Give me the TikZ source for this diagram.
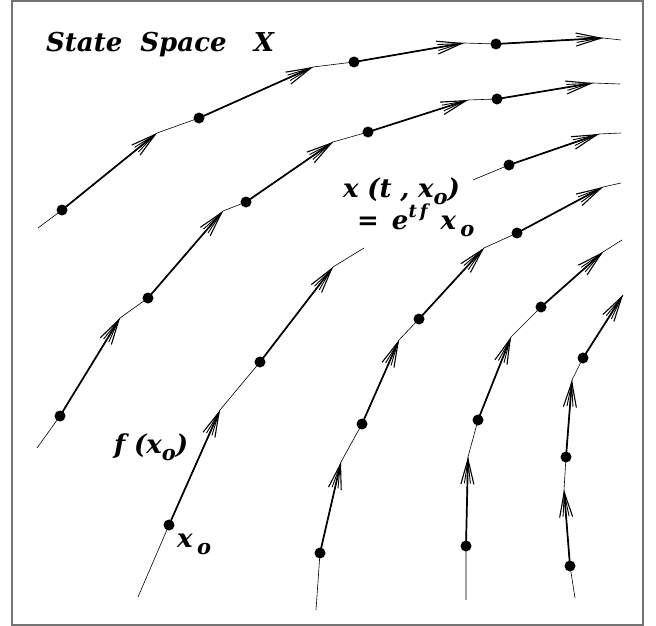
\documentclass[tikz,border=0pt]{standalone}
\usepackage{fontspec}
\newfontfamily\labfont{DejaVu Serif}
\usetikzlibrary{arrows.meta}
\newcommand\lsub[1]{\raisebox{-0.28em}{\fontsize{21}{21}\selectfont #1}}
\newcommand\lsup[1]{\raisebox{0.45em}{\fontsize{18}{18}\selectfont #1}}
\begin{document}
\begin{tikzpicture}[x=1pt,y=-1pt,
  flow/.style={line width=0.6pt, line join=round},
  vec/.style={line width=1.7pt,
    -{Straight Barb[length=25pt,width=13pt,line width=1.1pt]},
    postaction={draw, line width=0.7pt, -{Straight Barb[length=23pt,width=6pt,line width=0.9pt]}}},
  dotr/.style={fill=black},
  lab/.style={anchor=base west, inner sep=0pt, font=\labfont\fontsize{26}{30}\selectfont\bfseries\itshape}
]
\useasboundingbox (0,0) rectangle (656,626);
\draw[black!55, line width=1.5pt] (12,1) rectangle (643,625);

% curve A
\coordinate (a0) at (38,228);  \coordinate (A1) at (62,210);  \coordinate (a1) at (157,133);
\coordinate (A2) at (199,118); \coordinate (a2) at (313,67);  \coordinate (A3) at (354,62);
\coordinate (a3) at (464,43);  \coordinate (A4) at (496,44);  \coordinate (a4) at (603,38);
\coordinate (ae) at (621,40);
% curve B
\coordinate (b0) at (37,448);  \coordinate (B1) at (60,416);  \coordinate (b1) at (120,318);
\coordinate (B2) at (148,298); \coordinate (b2) at (223,211); \coordinate (B3) at (246,202);
\coordinate (b3) at (333,142); \coordinate (B4) at (368,132); \coordinate (b4) at (468,100);
\coordinate (B5) at (497,99);  \coordinate (b5) at (593,83);  \coordinate (be) at (620,84);
% curve C
\coordinate (c0) at (138,597); \coordinate (C1) at (169,525); \coordinate (c1) at (220,410);
\coordinate (C2) at (260,362); \coordinate (c2) at (333,267); \coordinate (ce) at (364,248);
% curve D
\coordinate (d0) at (473,180); \coordinate (D1) at (509,165); \coordinate (d1) at (599,134);
\coordinate (de) at (621,133);
% curve E
\coordinate (e0) at (316,610); \coordinate (E1) at (320,553); \coordinate (e1) at (341,462);
\coordinate (E2) at (362,424); \coordinate (e2) at (399,340); \coordinate (E3) at (419,319);
\coordinate (e3) at (484,248); \coordinate (E4) at (517,233); \coordinate (e4) at (603,187);
\coordinate (ee) at (621,183);
% curve F
\coordinate (f0) at (466,600); \coordinate (F1) at (466,546); \coordinate (f1) at (468,457);
\coordinate (F2) at (478,420); \coordinate (f2) at (511,337); \coordinate (F3) at (541,307);
\coordinate (f3) at (603,252); \coordinate (fe) at (622,240);
% curve G
\coordinate (g0) at (575,598); \coordinate (G1) at (570,566); \coordinate (g1) at (564,490);
\coordinate (G2) at (566,457); \coordinate (g2) at (572,380); \coordinate (G3) at (583,358);
\coordinate (g3) at (623,295);

% thin trajectories
\draw[flow] (a0) -- (A1) -- (a1) -- (A2) -- (a2) -- (A3) -- (a3) -- (A4) -- (a4) -- (ae);
\draw[flow] (b0) -- (B1) -- (b1) -- (B2) -- (b2) -- (B3) -- (b3) -- (B4) -- (b4) -- (B5) -- (b5) -- (be);
\draw[flow] (c0) -- (C1) -- (c1) -- (C2) -- (c2) -- (ce);
\draw[flow] (d0) -- (D1) -- (d1) -- (de);
\draw[flow] (e0) -- (E1) -- (e1) -- (E2) -- (e2) -- (E3) -- (e3) -- (E4) -- (e4) -- (ee);
\draw[flow] (f0) -- (F1) -- (f1) -- (F2) -- (f2) -- (F3) -- (f3) -- (fe);
\draw[flow] (g0) -- (G1) -- (g1) -- (G2) -- (g2) -- (G3) -- (g3);

% tangent vectors
\foreach \p/\q in {A1/a1,A2/a2,A3/a3,A4/a4,B1/b1,B2/b2,B3/b3,B4/b4,B5/b5,C1/c1,C2/c2,D1/d1,
                   E1/e1,E2/e2,E3/e3,E4/e4,F1/f1,F2/f2,F3/f3,G1/g1,G2/g2,G3/g3}
  \draw[vec] (\p) -- (\q);

% points
\foreach \p in {A1,A2,A3,A4,B1,B2,B3,B4,B5,C1,C2,D1,E1,E2,E3,E4,F1,F2,F3,G1,G2,G3}
  \fill[dotr] (\p) circle[radius=5.5pt];

% labels
\node[lab] (title) at (46,52) {State\ \ Space\ \ \ X};
\node[lab] (sol1) at (343,197) {x\,\,(t\,\,,\,\,x\lsub{o})};
\node[lab] (sol2) at (357,229) {{\upshape =}\,\,\,e\lsup{t\,f}\,\,\,x\,\lsub{o}};
\node[lab] (fx) at (114,453) {f\,\,(x\lsub{o})};
\node[lab] (x0) at (177,547) {x\,\lsub{o}};
\end{tikzpicture}
\end{document}
